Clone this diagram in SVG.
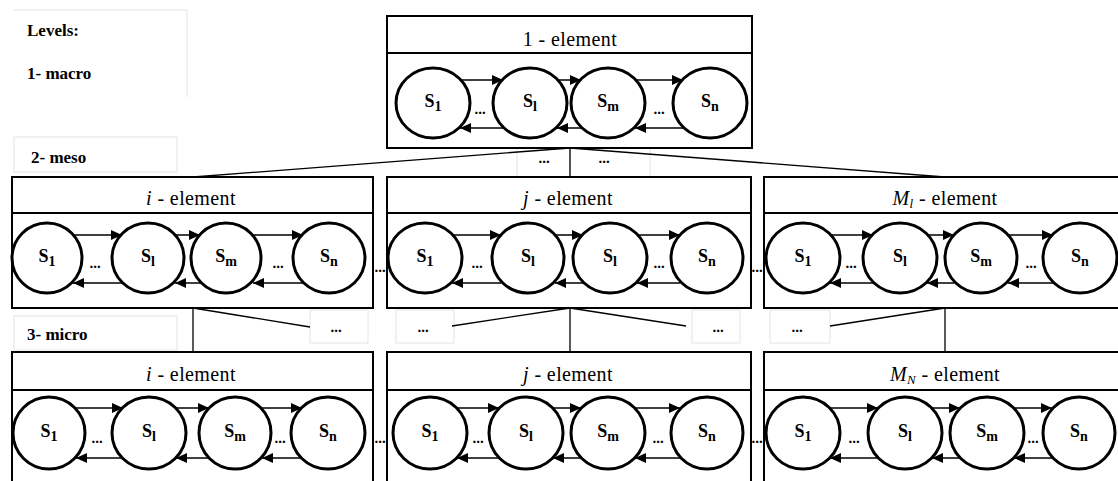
<svg xmlns="http://www.w3.org/2000/svg" width="1118" height="481" viewBox="0 0 1118 481">
  <defs>
    <marker id="head" markerUnits="userSpaceOnUse" markerWidth="12" markerHeight="10" refX="11" refY="5" orient="auto">
      <path d="M0,0 L11,5 L0,10 Z" fill="#000"/>
    </marker>
  </defs>

  <rect width="1118" height="481" fill="#fff"/>

  <!-- level legend (labels set at double size inside a half-scale group) -->
  <g id="legend">
    <path d="M14,10 H187 V97" fill="none" stroke="#e4e4e4"/>
    <rect x="14" y="137" width="163" height="35" fill="#fff" stroke="#e4e4e4"/>
    <rect x="14" y="316" width="163" height="34" fill="#fff" stroke="#e4e4e4"/>
    <g transform="scale(0.5)" font-family="'Liberation Serif', serif" font-size="34" font-weight="bold">
      <text x="54" y="72">Levels:</text>
      <text x="54" y="158">1- macro</text>
      <text x="62" y="326">2- meso</text>
      <text x="54" y="680">3- micro</text>
    </g>
  </g>

  <!-- ellipsis cells between levels -->
  <g id="gaps">
    <g fill="#fff" stroke="#e4e4e4">
      <rect x="517" y="148" width="53" height="30"/>
      <rect x="570" y="148" width="80" height="30"/>
      <rect x="310" y="310" width="58" height="33"/>
      <rect x="396" y="310" width="58" height="33"/>
      <rect x="692" y="310" width="48" height="33"/>
      <rect x="770" y="310" width="60" height="33"/>
    </g>
    <g transform="scale(0.5)" font-family="'Liberation Serif', serif" font-size="30" font-weight="bold" text-anchor="middle">
      <text x="1088" y="326">...</text>
      <text x="1208" y="326">...</text>
      <text x="672" y="664">...</text>
      <text x="846" y="664">...</text>
      <text x="1436" y="664">...</text>
      <text x="1594" y="664">...</text>
    </g>
  </g>

  <!-- hierarchy connectors -->
  <g id="connectors" stroke="#000" stroke-width="1.3" fill="none">
    <line x1="570" y1="148" x2="193" y2="177"/>
    <line x1="570" y1="148" x2="570" y2="177"/>
    <line x1="570" y1="148" x2="945" y2="177"/>
    <line x1="193" y1="308" x2="193" y2="352"/>
    <line x1="193" y1="308" x2="310" y2="327"/>
    <line x1="570" y1="308" x2="570" y2="352"/>
    <line x1="570" y1="308" x2="452" y2="326"/>
    <line x1="570" y1="308" x2="686" y2="326"/>
    <line x1="945" y1="308" x2="945" y2="352"/>
    <line x1="945" y1="308" x2="830" y2="326"/>
  </g>

  <!-- macro level -->
  <g id="macro-1">
    <rect x="387" y="16" width="365" height="132" fill="#fff" stroke="#000" stroke-width="2"/>
    <line x1="387" y1="53" x2="752" y2="53" stroke="#000" stroke-width="2"/>
    <g stroke="#000" stroke-width="1.5" marker-end="url(#head)">
      <line x1="460" y1="80" x2="503" y2="80"/>
      <line x1="557" y1="80" x2="581" y2="80"/>
      <line x1="635" y1="80" x2="683" y2="80"/>
      <line x1="503" y1="128" x2="460" y2="128"/>
      <line x1="581" y1="128" x2="557" y2="128"/>
      <line x1="683" y1="128" x2="635" y2="128"/>
    </g>
    <g fill="#fff" stroke="#000" stroke-width="3">
      <ellipse cx="433" cy="103" rx="37" ry="35"/>
      <ellipse cx="530" cy="103" rx="37" ry="35"/>
      <ellipse cx="608" cy="103" rx="37" ry="35"/>
      <ellipse cx="710" cy="103" rx="37" ry="35"/>
    </g>
    <g transform="scale(0.5)" font-family="'Liberation Serif', serif" text-anchor="middle">
      <text x="1140" y="92" font-size="40" letter-spacing="0.8">1 - element</text>
      <g font-size="36" font-weight="bold">
        <text x="866" y="214">S<tspan font-size="28" dy="8">1</tspan></text>
        <text x="1060" y="214">S<tspan font-size="28" dy="8">l</tspan></text>
        <text x="1216" y="214">S<tspan font-size="28" dy="8">m</tspan></text>
        <text x="1420" y="214">S<tspan font-size="28" dy="8">n</tspan></text>
      </g>
      <g font-size="30" font-weight="bold">
        <text x="960" y="228">...</text>
        <text x="1318" y="228">...</text>
      </g>
    </g>
  </g>

  <!-- meso level -->
  <g id="meso-i">
    <rect x="12" y="177" width="361" height="131" fill="#fff" stroke="#000" stroke-width="2"/>
    <line x1="12" y1="213" x2="373" y2="213" stroke="#000" stroke-width="2"/>
    <g stroke="#000" stroke-width="1.5" marker-end="url(#head)">
      <line x1="73" y1="235" x2="122" y2="235"/>
      <line x1="175" y1="235" x2="200" y2="235"/>
      <line x1="253" y1="235" x2="303" y2="235"/>
      <line x1="122" y1="283" x2="73" y2="283"/>
      <line x1="200" y1="283" x2="175" y2="283"/>
      <line x1="303" y1="283" x2="253" y2="283"/>
    </g>
    <g fill="#fff" stroke="#000" stroke-width="3">
      <ellipse cx="47" cy="258" rx="35" ry="35"/>
      <ellipse cx="148" cy="258" rx="36" ry="35"/>
      <ellipse cx="226" cy="258" rx="35" ry="35"/>
      <ellipse cx="329" cy="258" rx="36" ry="35"/>
    </g>
    <g transform="scale(0.5)" font-family="'Liberation Serif', serif" text-anchor="middle">
      <text x="382" y="410" font-size="40" letter-spacing="0.8"><tspan font-style="italic">i</tspan> - element</text>
      <g font-size="36" font-weight="bold">
        <text x="94" y="524">S<tspan font-size="28" dy="8">1</tspan></text>
        <text x="296" y="524">S<tspan font-size="28" dy="8">l</tspan></text>
        <text x="452" y="524">S<tspan font-size="28" dy="8">m</tspan></text>
        <text x="658" y="524">S<tspan font-size="28" dy="8">n</tspan></text>
      </g>
      <g font-size="30" font-weight="bold">
        <text x="190" y="536">...</text>
        <text x="556" y="536">...</text>
      </g>
    </g>
  </g>

  <g id="meso-j">
    <rect x="387" y="177" width="364" height="131" fill="#fff" stroke="#000" stroke-width="2"/>
    <line x1="387" y1="213" x2="751" y2="213" stroke="#000" stroke-width="2"/>
    <g stroke="#000" stroke-width="1.5" marker-end="url(#head)">
      <line x1="452" y1="235" x2="501" y2="235"/>
      <line x1="555" y1="235" x2="583" y2="235"/>
      <line x1="637" y1="235" x2="680" y2="235"/>
      <line x1="501" y1="283" x2="452" y2="283"/>
      <line x1="583" y1="283" x2="555" y2="283"/>
      <line x1="680" y1="283" x2="637" y2="283"/>
    </g>
    <g fill="#fff" stroke="#000" stroke-width="3">
      <ellipse cx="425" cy="258" rx="37" ry="35"/>
      <ellipse cx="528" cy="258" rx="36" ry="35"/>
      <ellipse cx="610" cy="258" rx="37" ry="35"/>
      <ellipse cx="707" cy="258" rx="36" ry="35"/>
    </g>
    <g transform="scale(0.5)" font-family="'Liberation Serif', serif" text-anchor="middle">
      <text x="1136" y="410" font-size="40" letter-spacing="0.8"><tspan font-style="italic">j</tspan> - element</text>
      <g font-size="36" font-weight="bold">
        <text x="850" y="524">S<tspan font-size="28" dy="8">1</tspan></text>
        <text x="1056" y="524">S<tspan font-size="28" dy="8">l</tspan></text>
        <text x="1220" y="524">S<tspan font-size="28" dy="8">l</tspan></text>
        <text x="1414" y="524">S<tspan font-size="28" dy="8">n</tspan></text>
      </g>
      <g font-size="30" font-weight="bold">
        <text x="954" y="536">...</text>
        <text x="1318" y="536">...</text>
      </g>
    </g>
  </g>

  <g id="meso-ml">
    <rect x="764" y="177" width="364" height="131" fill="#fff" stroke="#000" stroke-width="2"/>
    <line x1="764" y1="213" x2="1118" y2="213" stroke="#000" stroke-width="2"/>
    <g stroke="#000" stroke-width="1.5" marker-end="url(#head)">
      <line x1="830" y1="235" x2="873" y2="235"/>
      <line x1="927" y1="235" x2="954" y2="235"/>
      <line x1="1008" y1="235" x2="1053" y2="235"/>
      <line x1="873" y1="283" x2="830" y2="283"/>
      <line x1="954" y1="283" x2="927" y2="283"/>
      <line x1="1053" y1="283" x2="1008" y2="283"/>
    </g>
    <g fill="#fff" stroke="#000" stroke-width="3">
      <ellipse cx="803" cy="258" rx="37" ry="35"/>
      <ellipse cx="900" cy="258" rx="37" ry="35"/>
      <ellipse cx="981" cy="258" rx="36" ry="35"/>
      <ellipse cx="1080" cy="258" rx="37" ry="35"/>
    </g>
    <g transform="scale(0.5)" font-family="'Liberation Serif', serif" text-anchor="middle">
      <text x="1890" y="410" font-size="40" letter-spacing="0.8"><tspan font-style="italic">M<tspan font-size="26" dy="6">l</tspan></tspan><tspan dy="-6"> - element</tspan></text>
      <g font-size="36" font-weight="bold">
        <text x="1606" y="524">S<tspan font-size="28" dy="8">1</tspan></text>
        <text x="1800" y="524">S<tspan font-size="28" dy="8">l</tspan></text>
        <text x="1962" y="524">S<tspan font-size="28" dy="8">m</tspan></text>
        <text x="2160" y="524">S<tspan font-size="28" dy="8">n</tspan></text>
      </g>
      <g font-size="30" font-weight="bold">
        <text x="1702" y="536">...</text>
        <text x="2062" y="536">...</text>
      </g>
    </g>
  </g>

  <!-- micro level -->
  <g id="micro-i">
    <rect x="12" y="352" width="361" height="140" fill="#fff" stroke="#000" stroke-width="2"/>
    <line x1="12" y1="390" x2="373" y2="390" stroke="#000" stroke-width="2"/>
    <g stroke="#000" stroke-width="1.5" marker-end="url(#head)">
      <line x1="76" y1="408" x2="123" y2="408"/>
      <line x1="176" y1="408" x2="209" y2="408"/>
      <line x1="262" y1="408" x2="302" y2="408"/>
      <line x1="123" y1="458" x2="76" y2="458"/>
      <line x1="209" y1="458" x2="176" y2="458"/>
      <line x1="302" y1="458" x2="262" y2="458"/>
    </g>
    <g fill="#fff" stroke="#000" stroke-width="3">
      <ellipse cx="49" cy="433" rx="36" ry="36"/>
      <ellipse cx="149" cy="433" rx="37" ry="36"/>
      <ellipse cx="235" cy="433" rx="36" ry="36"/>
      <ellipse cx="328" cy="433" rx="37" ry="36"/>
    </g>
    <g transform="scale(0.5)" font-family="'Liberation Serif', serif" text-anchor="middle">
      <text x="382" y="762" font-size="40" letter-spacing="0.8"><tspan font-style="italic">i</tspan> - element</text>
      <g font-size="36" font-weight="bold">
        <text x="98" y="874">S<tspan font-size="28" dy="8">1</tspan></text>
        <text x="298" y="874">S<tspan font-size="28" dy="8">l</tspan></text>
        <text x="470" y="874">S<tspan font-size="28" dy="8">m</tspan></text>
        <text x="656" y="874">S<tspan font-size="28" dy="8">n</tspan></text>
      </g>
      <g font-size="30" font-weight="bold">
        <text x="194" y="886">...</text>
        <text x="560" y="886">...</text>
      </g>
    </g>
  </g>

  <g id="micro-j">
    <rect x="387" y="352" width="364" height="140" fill="#fff" stroke="#000" stroke-width="2"/>
    <line x1="387" y1="390" x2="751" y2="390" stroke="#000" stroke-width="2"/>
    <g stroke="#000" stroke-width="1.5" marker-end="url(#head)">
      <line x1="457" y1="408" x2="499" y2="408"/>
      <line x1="553" y1="408" x2="581" y2="408"/>
      <line x1="635" y1="408" x2="680" y2="408"/>
      <line x1="499" y1="458" x2="457" y2="458"/>
      <line x1="581" y1="458" x2="553" y2="458"/>
      <line x1="680" y1="458" x2="635" y2="458"/>
    </g>
    <g fill="#fff" stroke="#000" stroke-width="3">
      <ellipse cx="430" cy="433" rx="37" ry="36"/>
      <ellipse cx="526" cy="433" rx="37" ry="36"/>
      <ellipse cx="608" cy="433" rx="37" ry="36"/>
      <ellipse cx="707" cy="433" rx="36" ry="36"/>
    </g>
    <g transform="scale(0.5)" font-family="'Liberation Serif', serif" text-anchor="middle">
      <text x="1136" y="762" font-size="40" letter-spacing="0.8"><tspan font-style="italic">j</tspan> - element</text>
      <g font-size="36" font-weight="bold">
        <text x="860" y="874">S<tspan font-size="28" dy="8">1</tspan></text>
        <text x="1052" y="874">S<tspan font-size="28" dy="8">l</tspan></text>
        <text x="1216" y="874">S<tspan font-size="28" dy="8">m</tspan></text>
        <text x="1414" y="874">S<tspan font-size="28" dy="8">n</tspan></text>
      </g>
      <g font-size="30" font-weight="bold">
        <text x="956" y="886">...</text>
        <text x="1316" y="886">...</text>
      </g>
    </g>
  </g>

  <g id="micro-mn">
    <rect x="764" y="352" width="364" height="140" fill="#fff" stroke="#000" stroke-width="2"/>
    <line x1="764" y1="390" x2="1118" y2="390" stroke="#000" stroke-width="2"/>
    <g stroke="#000" stroke-width="1.5" marker-end="url(#head)">
      <line x1="830" y1="408" x2="878" y2="408"/>
      <line x1="932" y1="408" x2="960" y2="408"/>
      <line x1="1014" y1="408" x2="1052" y2="408"/>
      <line x1="878" y1="458" x2="830" y2="458"/>
      <line x1="960" y1="458" x2="932" y2="458"/>
      <line x1="1052" y1="458" x2="1014" y2="458"/>
    </g>
    <g fill="#fff" stroke="#000" stroke-width="3">
      <ellipse cx="803" cy="433" rx="37" ry="36"/>
      <ellipse cx="905" cy="433" rx="37" ry="36"/>
      <ellipse cx="987" cy="433" rx="37" ry="36"/>
      <ellipse cx="1079" cy="433" rx="36" ry="36"/>
    </g>
    <g transform="scale(0.5)" font-family="'Liberation Serif', serif" text-anchor="middle">
      <text x="1890" y="762" font-size="40" letter-spacing="0.8"><tspan font-style="italic">M<tspan font-size="26" dy="6">N</tspan></tspan><tspan dy="-6"> - element</tspan></text>
      <g font-size="36" font-weight="bold">
        <text x="1606" y="874">S<tspan font-size="28" dy="8">1</tspan></text>
        <text x="1810" y="874">S<tspan font-size="28" dy="8">l</tspan></text>
        <text x="1974" y="874">S<tspan font-size="28" dy="8">m</tspan></text>
        <text x="2158" y="874">S<tspan font-size="28" dy="8">n</tspan></text>
      </g>
      <g font-size="30" font-weight="bold">
        <text x="1708" y="886">...</text>
        <text x="2066" y="886">...</text>
      </g>
    </g>
  </g>

  <!-- dots between neighbouring elements of a level -->
  <g transform="scale(0.5)" font-family="'Liberation Serif', serif" font-size="30" font-weight="bold" text-anchor="middle">
    <text x="760" y="544">...</text>
    <text x="1514" y="544">...</text>
    <text x="760" y="886">...</text>
    <text x="1514" y="886">...</text>
  </g>
</svg>
